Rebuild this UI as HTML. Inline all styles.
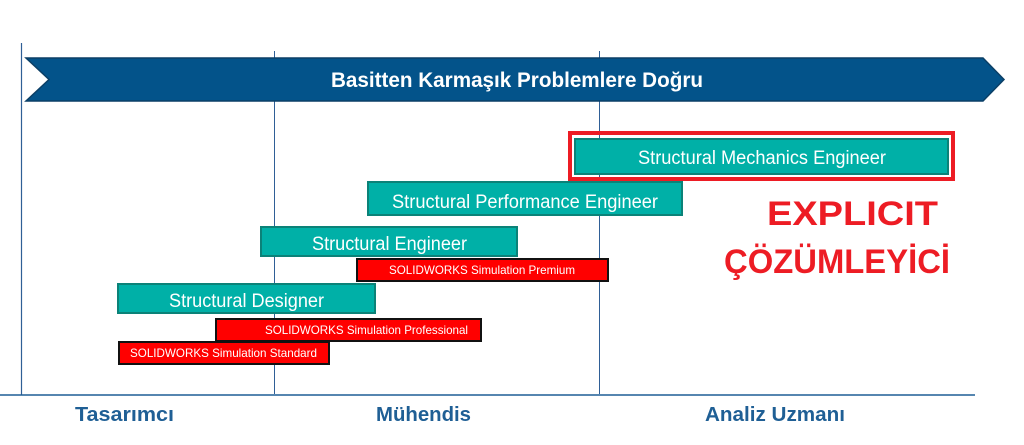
<!DOCTYPE html>
<html><head><meta charset="utf-8"><style>
html,body{margin:0;padding:0;background:#fff;width:1024px;height:445px;overflow:hidden}
</style></head><body>
<svg width="1024" height="445" viewBox="0 0 1024 445" xmlns="http://www.w3.org/2000/svg" font-family="Liberation Sans, sans-serif">
<rect width="1024" height="445" fill="#fff"/>
<line x1="21.5" y1="43" x2="21.5" y2="395" stroke="#2f5f96" stroke-width="1.2"/>
<line x1="274.5" y1="51" x2="274.5" y2="394" stroke="#2f5f96" stroke-width="1"/>
<line x1="599.5" y1="51" x2="599.5" y2="394" stroke="#2f5f96" stroke-width="1"/>
<line x1="0" y1="395" x2="975" y2="395" stroke="#1f5f95" stroke-width="1.6"/>
<polygon points="26,58 983,58 1004,79.5 983,101 26,101 49,79.5" fill="#03538a" stroke="#0b3f66" stroke-width="1.5"/>
<text x="331" y="87" font-size="21" font-weight="bold" fill="#fff" textLength="372" lengthAdjust="spacingAndGlyphs">Basitten Karmaşık Problemlere Doğru</text>
<rect x="570" y="133" width="383" height="46" fill="none" stroke="#ed1c24" stroke-width="4"/>
<g stroke="#0b8278" stroke-width="2" fill="#00b0a7">
<rect x="575" y="139" width="373" height="35"/>
<rect x="368" y="182" width="314" height="33"/>
<rect x="261" y="227" width="256" height="29"/>
<rect x="118" y="284" width="257" height="29"/>
</g>
<g fill="#fff" font-size="19" lengthAdjust="spacingAndGlyphs">
<text x="638" y="164" textLength="248" lengthAdjust="spacingAndGlyphs">Structural Mechanics Engineer</text>
<text x="392" y="208" textLength="266" lengthAdjust="spacingAndGlyphs">Structural Performance Engineer</text>
<text x="312" y="250" textLength="155" lengthAdjust="spacingAndGlyphs">Structural Engineer</text>
<text x="169" y="307" textLength="155" lengthAdjust="spacingAndGlyphs">Structural Designer</text>
</g>
<g stroke="#111" stroke-width="2" fill="#ff0000">
<rect x="357" y="259" width="251" height="22"/>
<rect x="216" y="319" width="265" height="22"/>
<rect x="119" y="342" width="210" height="22"/>
</g>
<g fill="#fff" font-size="12">
<text x="389" y="274" textLength="186" lengthAdjust="spacingAndGlyphs">SOLIDWORKS Simulation Premium</text>
<text x="265" y="334" textLength="203" lengthAdjust="spacingAndGlyphs">SOLIDWORKS Simulation Professional</text>
<text x="130" y="357" textLength="187" lengthAdjust="spacingAndGlyphs">SOLIDWORKS Simulation Standard</text>
</g>
<g fill="#ed1c24" font-size="34" font-weight="bold">
<text x="767" y="225" textLength="171" lengthAdjust="spacingAndGlyphs">EXPLICIT</text>
<text x="724" y="273" textLength="226" lengthAdjust="spacingAndGlyphs">ÇÖZÜMLEYİCİ</text>
</g>
<g fill="#1f5f95" font-size="20" font-weight="bold">
<text x="75" y="421" textLength="99" lengthAdjust="spacingAndGlyphs">Tasarımcı</text>
<text x="376" y="421" textLength="95" lengthAdjust="spacingAndGlyphs">Mühendis</text>
<text x="705" y="421" textLength="140" lengthAdjust="spacingAndGlyphs">Analiz Uzmanı</text>
</g>
</svg>
</body></html>
